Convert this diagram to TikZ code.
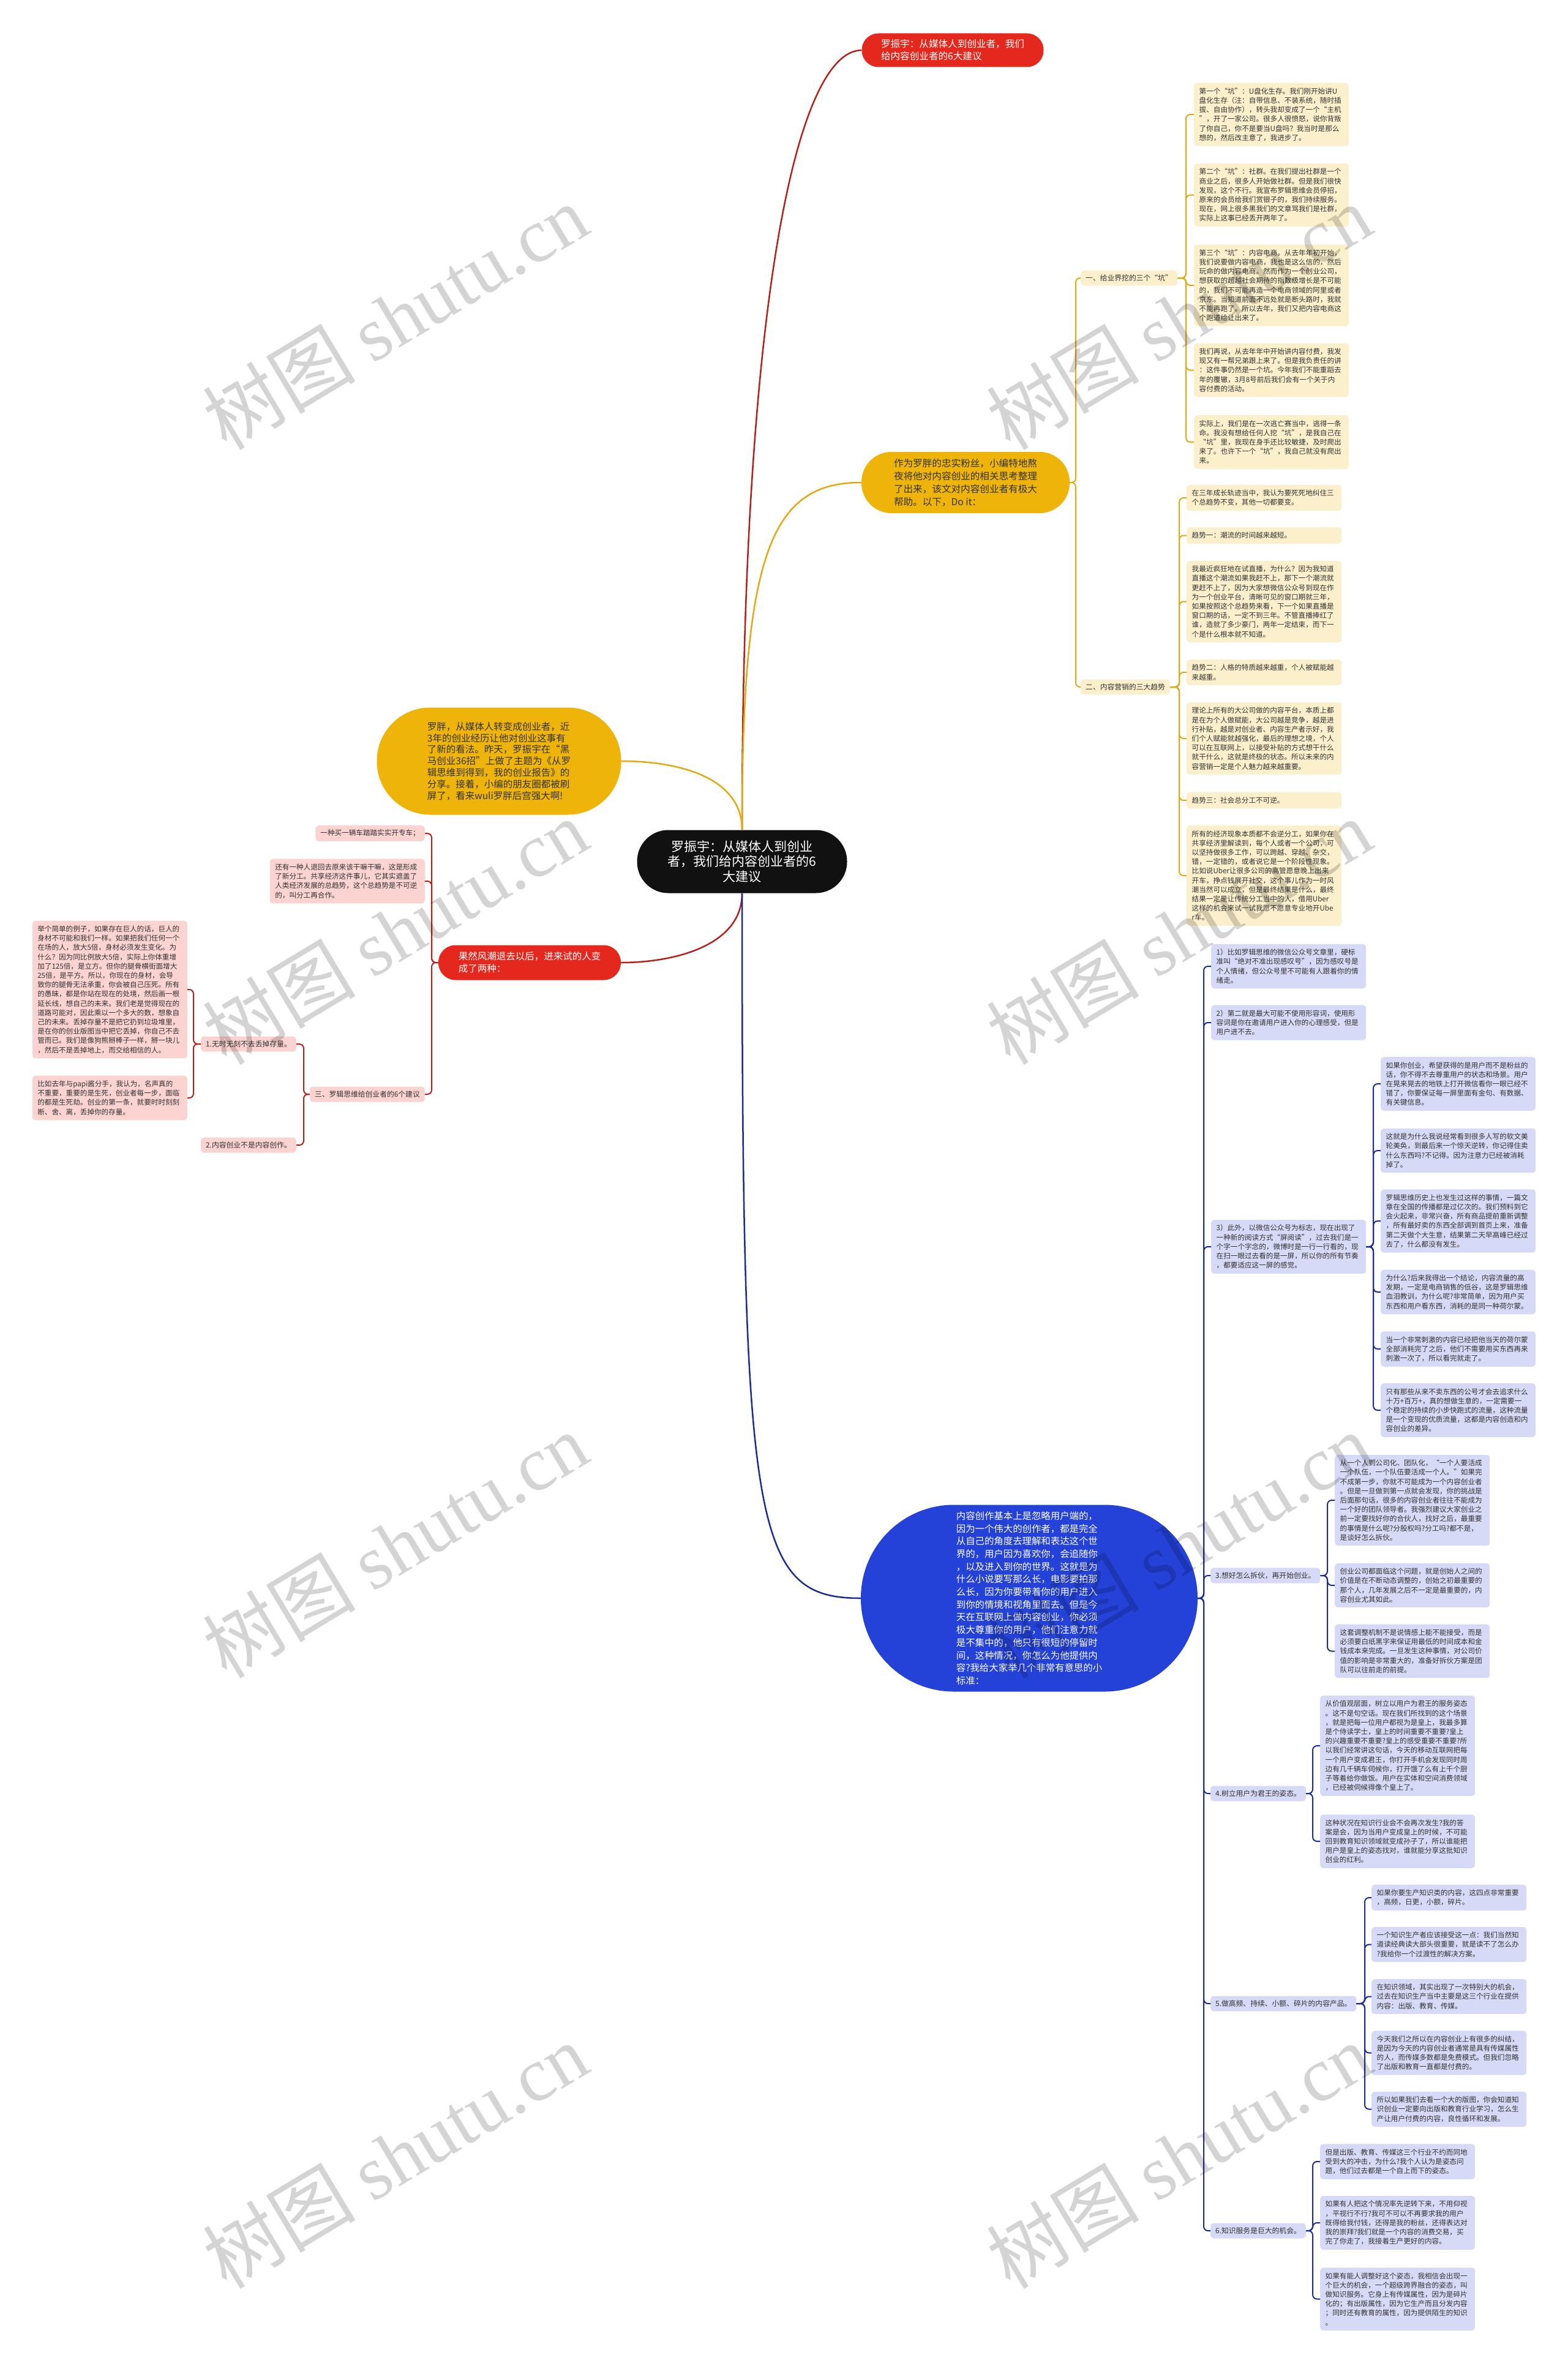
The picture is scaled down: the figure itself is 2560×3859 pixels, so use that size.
\documentclass[tikz,border=0pt]{standalone}
\usepackage{fontspec}
\newfontfamily\cjk{Noto Sans CJK SC}
\newfontfamily\wmlat{Liberation Serif}
\usetikzlibrary{calc}
\definecolor{cred}{HTML}{E5281E}
\definecolor{cdred}{HTML}{B5201A}
\definecolor{cgold}{HTML}{EEB409}
\definecolor{cgoldl}{HTML}{E3A812}
\definecolor{cyell}{HTML}{FCEFCB}
\definecolor{cpink}{HTML}{FBD3D1}
\definecolor{cblue}{HTML}{2441D8}
\definecolor{cnavy}{HTML}{1B2C94}
\definecolor{clav}{HTML}{D6DAF6}
\definecolor{ctxt}{HTML}{333333}
\definecolor{cblack}{HTML}{111111}
\newcommand\bracketR[4]{\foreach \c in {#4} {\draw[#1] (#2.east) -- (#3) |- (\c.west);}}
\newcommand\bracketL[4]{\foreach \c in {#4} {\draw[#1] (#2.west) -- (#3) |- (\c.east);}}
\tikzset{
  every node/.style={font=\cjk},
  sm/.style={font=\cjk\fontsize{11.6}{15.2}\selectfont},
  boxb/.style={sm, text=ctxt, align=left, inner xsep=8.5pt, inner ysep=8pt, rounded corners=5pt},
  tw/.style={text width=236pt},
  yb/.style={boxb, tw, fill=cyell, anchor=west},
  pb/.style={boxb, tw, fill=cpink, anchor=east},
  bb/.style={boxb, tw, fill=clav, anchor=west},
  lab/.style={font=\cjk\fontsize{11.8}{15}\selectfont, text=ctxt, inner xsep=8pt, inner ysep=7pt, rounded corners=5pt},
  ylab/.style={lab, fill=cyell, anchor=west},
  plab/.style={lab, fill=cpink, anchor=east},
  blab/.style={lab, fill=clav, anchor=west},
  pill/.style={inner sep=0pt, align=left},
  yconn/.style={draw=cgoldl, line width=2pt, rounded corners=7pt},
  rconn/.style={draw=cdred, line width=2pt, rounded corners=7pt},
  bconn/.style={draw=cnavy, line width=2pt, rounded corners=7pt},
  mainc/.style={line width=2.5pt},
  wm/.style={font=\cjk\fontsize{125}{125}\selectfont, text=black, text opacity=0.17, rotate=31, inner sep=0pt},
}
\begin{document}
\begin{tikzpicture}[x=1pt,y=-1pt]
\useasboundingbox (0,0) rectangle (2560,3859);
\fill[white] (0,0) rectangle (2560,3859);

% ---------- main nodes ----------
\node[pill, fill=cblack, text=white, align=center, minimum width=343pt, minimum height=103pt, rounded corners=51pt, font=\cjk\fontsize{21}{24.5}\selectfont] (ctr) at (1212,1407) {罗振宇：从媒体人到创业\\者，我们给内容创业者的6\\大建议};

\node[pill, fill=cred, text=white, minimum width=297pt, minimum height=55pt, rounded corners=27pt, font=\cjk\fontsize{15.6}{20}\selectfont] (top) at (1556,82) {罗振宇：从媒体人到创业者，我们\\给内容创业者的6大建议};

\node[pill, fill=cgold, text=ctxt, minimum width=340pt, minimum height=100pt, rounded corners=49pt, font=\cjk\fontsize{15.6}{21}\selectfont] (yr) at (1577,788) {作为罗胖的忠实粉丝，小编特地熬\\夜将他对内容创业的相关思考整理\\了出来，该文对内容创业者有极大\\帮助。以下，Do it：};

\node[pill, fill=cgold, text=ctxt, minimum width=399pt, minimum height=175pt, rounded corners=87pt, font=\cjk\fontsize{15.5}{18.8}\selectfont] (yl) at (815,1243) {罗胖，从媒体人转变成创业者，近\\3年的创业经历让他对创业这事有\\了新的看法。昨天，罗振宇在“黑\\马创业36招”上做了主题为《从罗\\辑思维到得到，我的创业报告》的\\分享。接着，小编的朋友圈都被刷\\屏了，看来wuli罗胖后宫强大啊!};

\node[pill, fill=cred, text=white, minimum width=298pt, minimum height=57pt, rounded corners=28pt, font=\cjk\fontsize{15.5}{20}\selectfont] (rl) at (865,1572) {果然风潮退去以后，进来试的人变\\成了两种：};

\node[pill, fill=cblue, text=white, minimum width=550pt, minimum height=305pt, rounded corners=152pt, font=\cjk\fontsize{15.4}{20.7}\selectfont] (blue) at (1681,2610) {内容创作基本上是忽略用户端的，\\因为一个伟大的创作者，都是完全\\从自己的角度去理解和表达这个世\\界的，用户因为喜欢你，会追随你\\，以及进入到你的世界。这就是为\\什么小说要写那么长，电影要拍那\\么长，因为你要带着你的用户进入\\到你的情境和视角里面去。但是今\\天在互联网上做内容创业，你必须\\极大尊重你的用户，他们注意力就\\是不集中的，他只有很短的停留时\\间，这种情况，你怎么为他提供内\\容?我给大家举几个非常有意思的小\\标准：};

% ---------- yellow branch ----------
\node[ylab] (g1) at (1765,454) {一、给业界挖的三个“坑”};
\node[ylab] (g2) at (1765,1122) {二、内容营销的三大趋势};

\node[yb] (a1) at (1950,187) {第一个“坑”：U盘化生存。我们刚开始讲U\\盘化生存（注：自带信息、不装系统，随时插\\拔、自由协作），转头我却变成了一个“主机\\”，开了一家公司。很多人很愤怒，说你背叛\\了你自己，你不是要当U盘吗？我当时是那么\\想的，然后改主意了，我进步了。};
\node[yb] (a2) at (1950,318.5) {第二个“坑”：社群。在我们提出社群是一个\\商业之后，很多人开始做社群。但是我们很快\\发现，这个不行。我宣布罗辑思维会员停招，\\原来的会员给我们赏银子的，我们持续服务。\\现在，网上很多黑我们的文章骂我们是社群，\\实际上这事已经丢开两年了。};
\node[yb] (a3) at (1950,466) {第三个“坑”：内容电商。从去年年初开始，\\我们说要做内容电商，我也是这么信的，然后\\玩命的做内容电商。然而作为一个创业公司，\\想获取的超越社会期待的指数级增长是不可能\\的，我们不可能再造一个电商领域的阿里或者\\京东。当知道前面不远处就是断头路时，我就\\不能再跑了。所以去年，我们又把内容电商这\\个跑道给让出来了。};
\node[yb] (a4) at (1950,604.5) {我们再说，从去年年中开始讲内容付费，我发\\现又有一帮兄弟跟上来了。但是我负责任的讲\\：这件事仍然是一个坑。今年我们不能重蹈去\\年的覆辙，3月8号前后我们会有一个关于内\\容付费的活动。};
\node[yb] (a5) at (1950,722) {实际上，我们是在一次逃亡赛当中，逃得一条\\命。我没有想给任何人挖“坑”，是我自己在\\“坑”里，我现在身手还比较敏捷，及时爬出\\来了。也许下一个“坑”，我自己就没有爬出\\来。};

\node[yb] (b1) at (1938,813) {在三年成长轨迹当中，我认为要死死地纠住三\\个总趋势不变，其他一切都要变。};
\node[yb] (b2) at (1938,874.5) {趋势一：潮流的时间越来越短。};
\node[yb] (b3) at (1938,982.5) {我最近疯狂地在试直播，为什么？因为我知道\\直播这个潮流如果我赶不上，那下一个潮流就\\更赶不上了，因为大家想微信公众号到现在作\\为一个创业平台，清晰可见的窗口期就三年，\\如果按照这个总趋势来看，下一个如果直播是\\窗口期的话，一定不到三年。不管直播捧红了\\谁，造就了多少豪门，两年一定结束，而下一\\个是什么根本就不知道。};
\node[yb] (b4) at (1938,1098) {趋势二：人格的特质越来越重，个人被赋能越\\来越重。};
\node[yb] (b5) at (1938,1206) {理论上所有的大公司做的内容平台，本质上都\\是在为个人做赋能，大公司越是竞争，越是进\\行补贴，越是对创业者、内容生产者示好，我\\们个人赋能就越强化，最后的理想之境，个人\\可以在互联网上，以接受补贴的方式想干什么\\就干什么，这就是终极的状态。所以未来的内\\容营销一定是个人魅力越来越重要。};
\node[yb] (b6) at (1938,1307) {趋势三：社会总分工不可逆。};
\node[yb] (b7) at (1938,1430) {所有的经济现象本质都不会逆分工，如果你在\\共享经济里解读到，每个人或者一个公司，可\\以坚持做很多工作，可以跨越、穿越、杂交，\\错，一定错的，或者说它是一个阶段性现象。\\比如说Uber让很多公司的高管愿意晚上出来\\开车，挣点钱展开社交，这个事儿作为一时风\\潮当然可以成立，但是最终结果是什么，最终\\结果一定是让传统分工当中的人，借用Uber\\这样的机会来试一试我愿不愿意专业地开Ube\\r车。};

% ---------- red left branch ----------
\node[plab, sm] (pA) at (694,1361) {一种买一辆车踏踏实实开专车；};
\node[pb] (pB) at (694,1439) {还有一种人退回去原来该干嘛干嘛，这是形成\\了新分工。共享经济这件事儿，它其实遮盖了\\人类经济发展的总趋势，这个总趋势是不可逆\\的，叫分工再合作。};
\node[plab] (p3) at (694,1787) {三、罗辑思维给创业者的6个建议};
\node[plab] (q1) at (484,1705) {1.无时无刻不去丢掉存量。};
\node[plab] (q2) at (484,1870) {2.内容创业不是内容创作。};
\node[pb] (r1) at (306,1616) {举个简单的例子，如果存在巨人的话，巨人的\\身材不可能和我们一样。如果把我们任何一个\\在场的人，放大5倍，身材必须发生变化。为\\什么？因为同比例放大5倍，实际上你体重增\\加了125倍，是立方。但你的腿骨横街面增大\\25倍，是平方。所以，你现在的身材，会导\\致你的腿骨无法承重，你会被自己压死。所有\\的愚昧，都是你站在现在的处境，然后画一根\\延长线，想自己的未来。我们老是觉得现在的\\道路可能对，因此乘以一个多大的数，想象自\\己的未来。丢掉存量不是把它扔到垃圾堆里，\\是在你的创业版图当中把它丢掉，你自己不去\\管而已。我们是像狗熊掰棒子一样，掰一块儿\\，然后不是丢掉地上，而交给相信的人。};
\node[pb] (r2) at (306,1793) {比如去年与papi酱分手，我认为，名声真的\\不重要，重要的是生死，创业者每一步，面临\\的都是生死劫。创业的第一条，就要时时刻刻\\断、舍、离，丢掉你的存量。};

% ---------- blue branch ----------
\node[bb] (c1) at (1978,1578) {1）比如罗辑思维的微信公众号文章里，硬标\\准叫“绝对不准出现感叹号”，因为感叹号是\\个人情绪，但公众号里不可能有人跟着你的情\\绪走。};
\node[bb] (c2) at (1978,1670) {2）第二就是最大可能不使用形容词，使用形\\容词是你在邀请用户进入你的心理感受，但是\\用户进不去。};
\node[bb] (c3) at (1978,2036) {3）此外，以微信公众号为标志，现在出现了\\一种新的阅读方式“屏阅读”，过去我们是一\\个字一个字念的，微博时是一行一行看的，现\\在扫一眼过去看的是一屏，所以你的所有节奏\\，都要适应这一屏的感觉。};
\node[blab] (n3) at (1977,2573) {3.想好怎么拆伙，再开始创业。};
\node[blab] (n4) at (1977,2929) {4.树立用户为君王的姿态。};
\node[blab] (n5) at (1977,3272) {5.做高频、持续、小额、碎片的内容产品。};
\node[blab] (n6) at (1977,3643) {6.知识服务是巨大的机会。};

\node[bb] (d1) at (2255,1770) {如果你创业，希望获得的是用户而不是粉丝的\\话，你不得不去尊重用户的状态和场景。用户\\在晃来晃去的地铁上打开微信看你一眼已经不\\错了，你要保证每一屏里面有金句、有数据、\\有关键信息。};
\node[bb] (d2) at (2255,1879) {这就是为什么我说经常看到很多人写的软文美\\轮美奂，到最后来一个惊天逆转，你记得住卖\\什么东西吗?不记得。因为注意力已经被消耗\\掉了。};
\node[bb] (d3) at (2255,1994) {罗辑思维历史上也发生过这样的事情，一篇文\\章在全国的传播都是过亿次的。我们预料到它\\会火起来，非常兴奋，所有商品提前重新调整\\，所有最好卖的东西全部调到首页上来，准备\\第二天做个大生意，结果第二天早高峰已经过\\去了，什么都没有发生。};
\node[bb] (d4) at (2255,2110) {为什么?后来我得出一个结论，内容流量的高\\发期，一定是电商销售的低谷，这是罗辑思维\\血泪教训，为什么呢?非常简单，因为用户买\\东西和用户看东西，消耗的是同一种荷尔蒙。};
\node[bb] (d5) at (2255,2203) {当一个非常刺激的内容已经把他当天的荷尔蒙\\全部消耗完了之后，他们不需要用买东西再来\\刺激一次了，所以看完就走了。};
\node[bb] (d6) at (2255,2303) {只有那些从来不卖东西的公号才会去追求什么\\十万+百万+，真的想做生意的，一定需要一\\个稳定的持续的小步快跑式的流量，这种流量\\是一个变现的优质流量，这都是内容创造和内\\容创业的差异。};

\node[bb] (e1) at (2180,2450) {从一个人到公司化、团队化，“一个人要活成\\一个队伍，一个队伍要活成一个人。”如果完\\不成第一步，你就不可能成为一个内容创业者\\。但是一旦做到第一点就会发现，你的挑战是\\后面那句话，很多的内容创业者往往不能成为\\一个好的团队领导者。我强烈建议大家创业之\\前一定要找好你的合伙人，找好之后，最重要\\的事情是什么呢?分股权吗?分工吗?都不是，\\是谈好怎么拆伙。};
\node[bb] (e2) at (2180,2589) {创业公司都面临这个问题，就是创始人之间的\\价值是在不断动态调整的，创始之初最重要的\\那个人，几年发展之后不一定是最重要的，内\\容创业尤其如此。};
\node[bb] (e3) at (2180,2696.5) {这套调整机制不是说情感上能不能接受，而是\\必须要白纸黑字来保证用最低的时间成本和金\\钱成本来完成。一旦发生这种事情，对公司价\\值的影响是非常重大的，准备好拆伙方案是团\\队可以往前走的前提。};

\node[bb] (f1) at (2156,2851) {从价值观层面，树立以用户为君王的服务姿态\\。这不是句空话。现在我们所找到的这个场景\\，就是把每一位用户都视为是皇上，我最多算\\是个侍读学士，皇上的时间重要不重要?皇上\\的兴趣重要不重要?皇上的感受重要不重要?所\\以我们经常讲这句话，今天的移动互联网把每\\一个用户变成君王，你打开手机会发现同时周\\边有几千辆车伺候你，打开饿了么有上千个厨\\子等着给你做饭。用户在实体和空间消费领域\\，已经被伺候得像个皇上了。};
\node[bb] (f2) at (2156,3007) {这种状况在知识行业会不会再次发生?我的答\\案是会，因为当用户变成皇上的时候，不可能\\回到教育知识领域就变成孙子了，所以谁能把\\用户是皇上的姿态找对，谁就能分享这批知识\\创业的红利。};

\node[bb] (h1) at (2240,3099) {如果你要生产知识类的内容，这四点非常重要\\，高频，日更，小额，碎片。};
\node[bb] (h2) at (2240,3175.5) {一个知识生产者应该接受这一点：我们当然知\\道读经典读大部头很重要，就是读不了怎么办\\?我给你一个过渡性的解决方案。};
\node[bb] (h3) at (2240,3260.5) {在知识领域，其实出现了一次特别大的机会，\\过去在知识生产当中主要是这三个行业在提供\\内容：出版、教育、传媒。};
\node[bb] (h4) at (2240,3352.5) {今天我们之所以在内容创业上有很多的纠结，\\是因为今天的内容创业者通常是具有传媒属性\\的人，而传媒多数都是免费模式。但我们忽略\\了出版和教育一直都是付费的。};
\node[bb] (h5) at (2240,3444.5) {所以如果我们去看一个大的版图，你会知道知\\识创业一定要向出版和教育行业学习，怎么生\\产让用户付费的内容，良性循环和发展。};

\node[bb] (k1) at (2156,3530) {但是出版、教育、传媒这三个行业不约而同地\\受到大的冲击，为什么?我个人认为是姿态问\\题，他们过去都是一个自上而下的姿态。};
\node[bb] (k2) at (2156,3630) {如果有人把这个情况率先逆转下来，不用仰视\\，平视行不行?我可不可以不再要求我的用户\\既得给我付钱，还得是我的粉丝，还得表达对\\我的崇拜?我们就是一个内容的消费交易，买\\完了你走了，我接着生产更好的内容。};
\node[bb] (k3) at (2156,3754.5) {如果有能人调整好这个姿态，我相信会出现一\\个巨大的机会，一个超级跨界融合的姿态，叫\\做知识服务。它身上有传媒属性，因为是碎片\\化的；有出版属性，因为它生产而且分发内容\\；同时还有教育的属性，因为提供陌生的知识\\。};

% ---------- main connectors ----------
\draw[mainc, draw=cdred] (ctr.north) .. controls (1212,500) and (1300,82) .. (top.west);
\draw[mainc, draw=cgoldl] (ctr.north) .. controls (1212,900) and (1260,788) .. (yr.west);
\draw[mainc, draw=cgoldl] (ctr.north) .. controls (1212,1270) and (1110,1243) .. (yl.east);
\draw[mainc, draw=cdred] (ctr.south) .. controls (1212,1545) and (1100,1572) .. (rl.east);
\draw[mainc, draw=cnavy] (ctr.south) .. controls (1212,2500) and (1230,2610) .. (blue.west);

% ---------- brackets ----------
\bracketR{yconn}{yr}{1757,788}{g1,g2}
\bracketR{yconn}{g1}{1937,454}{a1,a2,a3,a4,a5}
\bracketR{yconn}{g2}{1926,1122}{b1,b2,b3,b4,b5,b6,b7}
\bracketR{bconn}{blue}{1966,2610}{c1,c2,c3,n3,n4,n5,n6}
\bracketR{bconn}{c3}{2243,2036}{d1,d2,d3,d4,d5,d6}
\bracketR{bconn}{n3}{2168,2573}{e1,e2,e3}
\bracketR{bconn}{n4}{2144,2929}{f1,f2}
\bracketR{bconn}{n5}{2229,3272}{h1,h2,h3,h4,h5}
\bracketR{bconn}{n6}{2144,3643}{k1,k2,k3}
\bracketL{rconn}{rl}{705,1572}{pA,pB,p3}
\bracketL{rconn}{p3}{496,1787}{q1,q2}
\bracketL{rconn}{q1}{316,1705}{r1,r2}

% ---------- watermarks ----------
\foreach \wx in {645,1925} {
  \foreach \wy in {517,1521,2523,3520} {
    \node[wm] at (\wx,\wy) {树图 {\wmlat\fontsize{125}{125}\selectfont shutu.cn}};
  }
}
\end{tikzpicture}
\end{document}
